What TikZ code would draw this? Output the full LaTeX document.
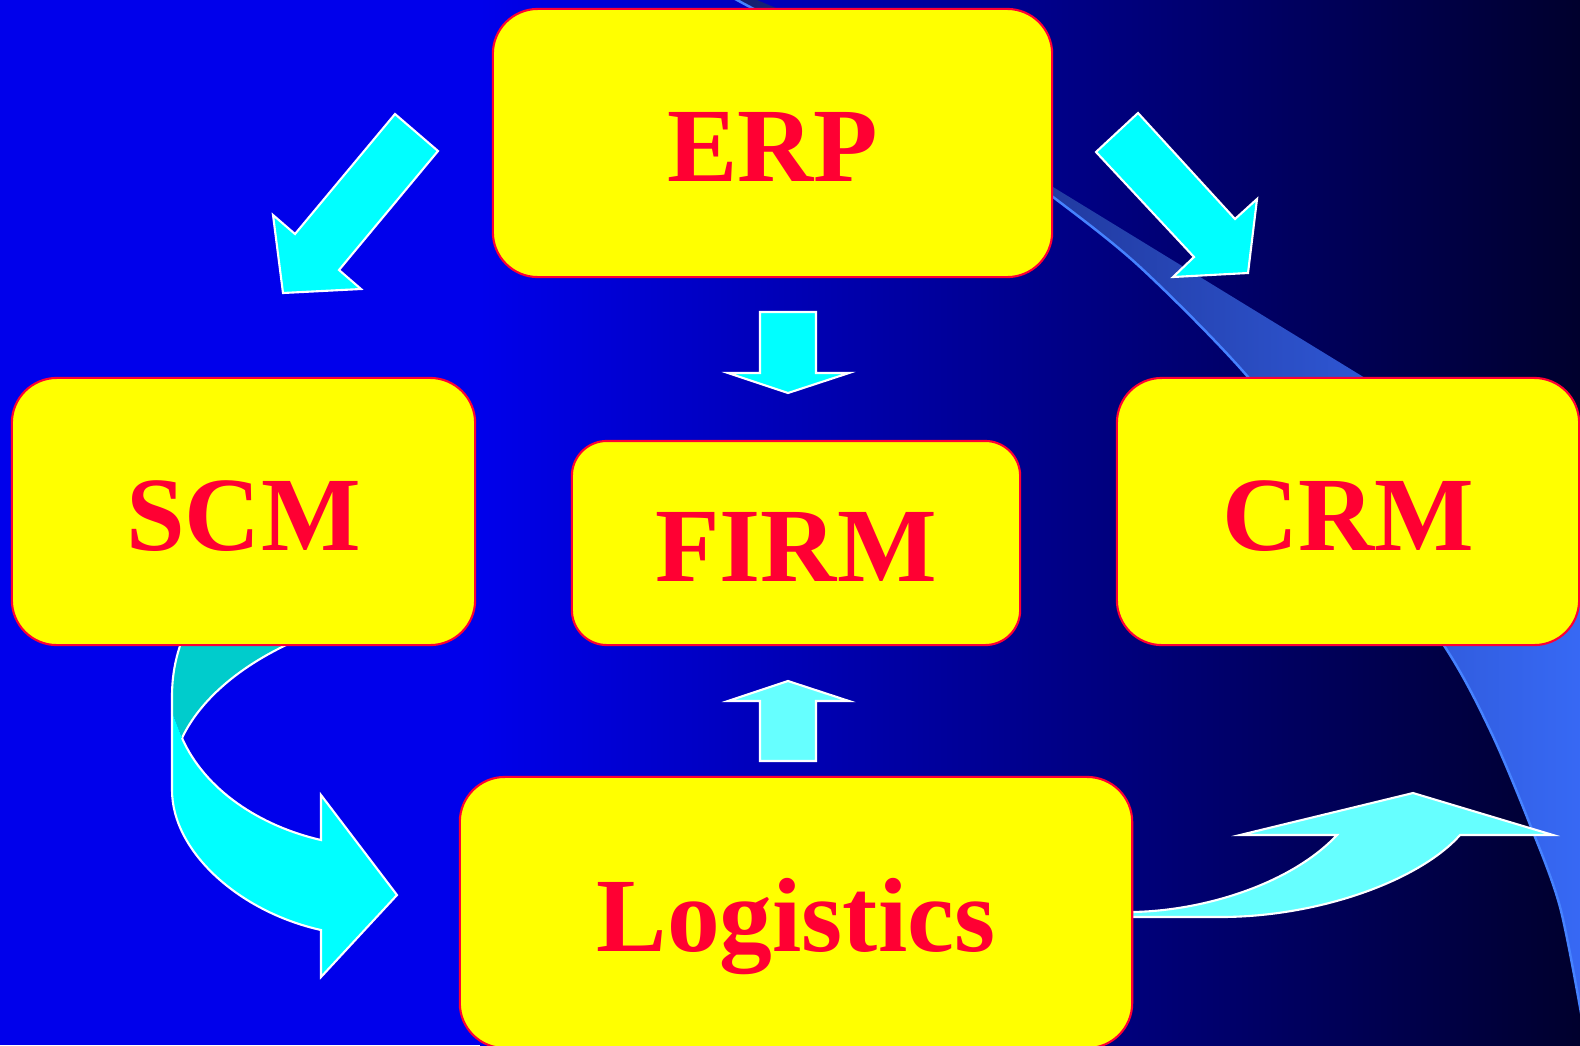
\documentclass[tikz,border=0pt]{standalone}
\usepackage{fontspec}
\setmainfont{Liberation Serif}
\definecolor{bgleft}{RGB}{0,0,235}
\definecolor{bgmid}{RGB}{0,0,140}
\definecolor{bgright}{RGB}{0,0,45}
\definecolor{boxred}{RGB}{255,0,51}
\definecolor{boxyellow}{RGB}{255,255,0}
\definecolor{arrowcyan}{RGB}{0,255,255}
\definecolor{arrowpale}{RGB}{102,255,255}
\definecolor{arrowteal}{RGB}{0,204,204}
\definecolor{swooshline}{RGB}{70,130,255}
\definecolor{swooshdark}{RGB}{20,30,110}
\definecolor{swooshlight}{RGB}{55,105,245}
\tikzset{
  module/.style={draw=boxred, fill=boxyellow, line width=0.6pt, rounded corners=0.45cm,
    inner sep=0pt, text=boxred, font=\fontsize{30}{30}\selectfont\bfseries,
    text height=21.9pt, text depth=0pt},
  blockarrow/.style={fill=arrowcyan, draw=white, line width=0.6pt},
}
\begin{document}
\begin{tikzpicture}[x=0.01cm,y=-0.01cm]
  \useasboundingbox (0,0) rectangle (1580,1045);
  \fill [bgleft] (0,0) rectangle (481,1045);
  \shade [left color=bgleft, middle color=bgmid, right color=bgright] (480,0) rectangle (1580,1045);
  % swoosh
  \shade [left color=swooshdark, right color=swooshlight]
    plot [smooth] coordinates {(728,-5) (750,7) (850,60) (960,130) (1053,197) (1140,267) (1248,377) (1345,505) (1445,647) (1490,730) (1527,817) (1560,907) (1584,1030)}
    -- (1584,512) -- (1053,187) -- (900,60) -- (745,-5) -- cycle;
  \draw [swooshline, line width=0.7pt]
    plot [smooth] coordinates {(728,-5) (750,7) (850,60) (960,130) (1053,197) (1140,267) (1248,377) (1345,505) (1445,647) (1490,730) (1527,817) (1560,907) (1584,1030)};
  % arrows
  \draw [blockarrow] (395,114) -- (438,151) -- (339,270) -- (361,289) -- (283,293) -- (273,215) -- (295,234) -- cycle;
  \draw [blockarrow] (1138,113) -- (1096,152) -- (1194,257) -- (1173,277) -- (1248,273) -- (1257,199) -- (1235,219) -- cycle;
  \draw [blockarrow] (760,312) -- (816,312) -- (816,373) -- (849,373) -- (788,393) -- (728,373) -- (760,373) -- cycle;
  \draw [blockarrow, fill=arrowpale] (760,761) -- (816,761) -- (816,701) -- (849,701) -- (788,681) -- (728,701) -- (760,701) -- cycle;
  \draw [blockarrow, fill=arrowteal] (182,738) .. controls (200,700) and (240,665) .. (297,640)
    -- (182,640) .. controls (174,662) and (172,680) .. (172,697) -- (172,712);
  \draw [blockarrow] (172,712) -- (172,790) .. controls (172,852) and (240,912) .. (321,930)
    -- (321,977) -- (397,895) -- (321,795) -- (321,840) .. controls (260,826) and (205,790) .. (182,738);
  \draw [blockarrow, fill=arrowpale] (1128,917) -- (1220,917) .. controls (1320,917) and (1420,880) .. (1460,835)
    -- (1553,835) -- (1413,793) -- (1240,835) -- (1337,835) .. controls (1290,885) and (1200,912) .. (1128,912);
  % modules
  \node [module, minimum width=5.59cm, minimum height=2.68cm] (erp) at (772.5,143) {ERP};
  \node [module, minimum width=4.63cm, minimum height=2.67cm] (scm) at (243.5,511.5) {SCM};
  \node [module, minimum width=4.48cm, minimum height=2.04cm, rounded corners=0.35cm] (firm) at (796,543) {FIRM};
  \node [module, minimum width=4.62cm, minimum height=2.67cm] (crm) at (1348,511.5) {CRM};
  \node [module, minimum width=6.72cm, minimum height=2.71cm] (logistics) at (796,912.5) {Logistics};
\end{tikzpicture}
\end{document}
